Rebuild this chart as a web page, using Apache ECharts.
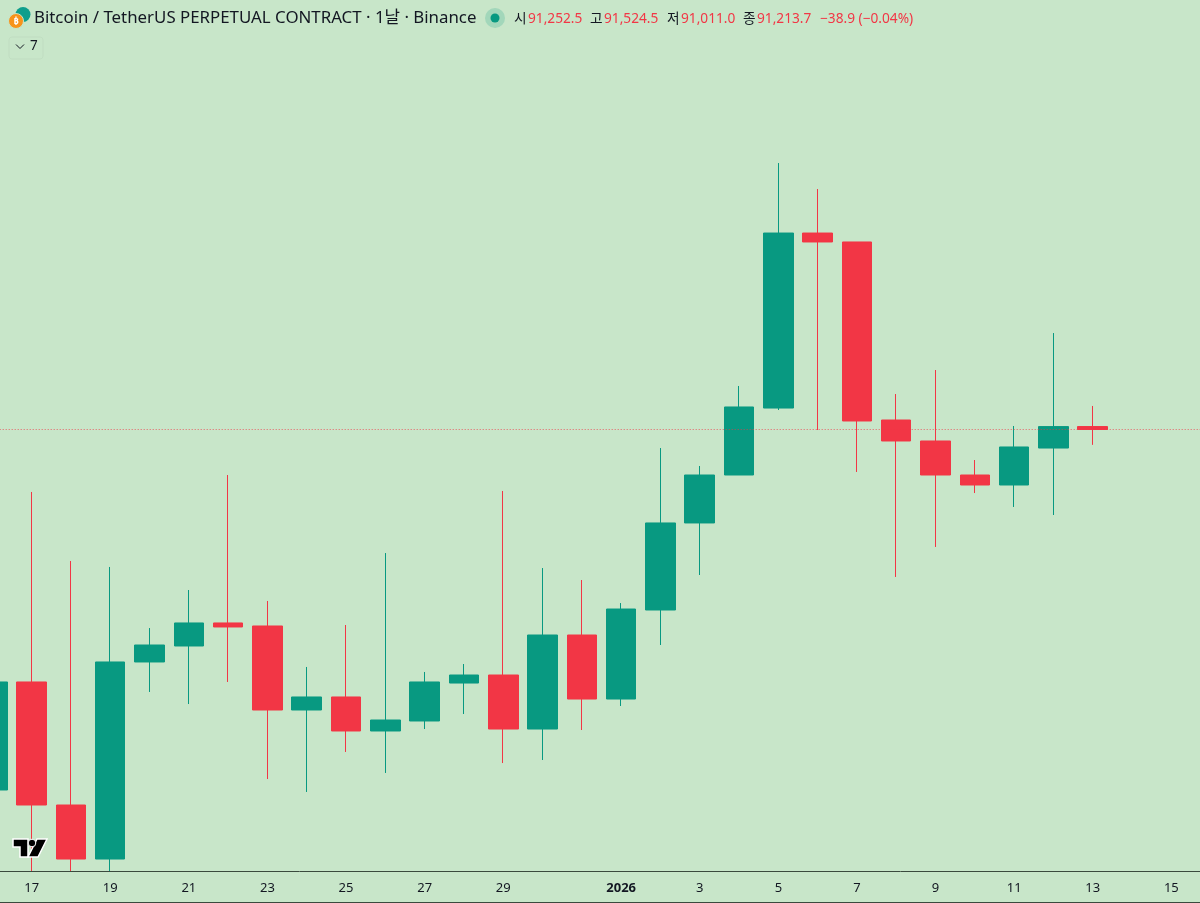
<!DOCTYPE html>
<html><head><meta charset="utf-8">
<style>html,body{margin:0;padding:0;background:#C8E6C9}#c{width:1200px;height:903px}</style>
<script src="https://cdn.jsdelivr.net/npm/echarts@6/dist/echarts.min.js"></script>
</head><body><div id="c"></div>
<script>
const categories = ['12-16','12-17','12-18','12-19','12-20','12-21','12-22','12-23','12-24','12-25','12-26','12-27','12-28','12-29','12-30','12-31','01-01','01-02','01-03','01-04','01-05','01-06','01-07','01-08','01-09','01-10','01-11','01-12','01-13','01-14','01-15','01-16'];
const tickLabels = ['','17','','19','','21','','23','','25','','27','','29','','','2026','','3','','5','','7','','9','','11','','13','','15',''];
const opens  = [86455,87881,86257,85544,88145,88356,88660,88620,87511,87683,87234,87366,87867,87973,87260,88501,87656,88831,89980,90613,91497,93807,93689,91339,91062,90613,90481,90969,91252.5];
const closes = [87881,86257,85544,88145,88369,88660,88607,87511,87683,87234,87379,87881,87973,87260,88501,87656,88844,89980,90613,91511,93807,93689,91326,91062,90613,90481,90983,91252,91213.7];
const lows   = [86200,85386,85386,85386,87749,87590,87881,86600,86429,86957,86680,87260,87458,86811,86851,87247,87564,88369,89293,90613,91471,91207,90653,89267,89663,90375,90191,90085,91011];
const highs  = [88100,90389,89478,89399,88593,89095,90613,88950,88079,88633,89583,88013,88118,90402,89385,89227,88923,90969,90732,91788,94731,94388,93689,91682,91999,90811,91260,92487,91524.5];
const lastClose = 91213.7;
const priceMin = 85386, priceMax = 96883;
const titleText = 'Bitcoin / TetherUS PERPETUAL CONTRACT · 1날 · Binance';
const ohlcKeys = ['시','고','저','종'];
const ohlcVals = ['91,252.5','91,524.5','91,011.0','91,213.7'];
const changeText = '−38.9 (−0.04%)';

const BG='#C8E6C9', UP='#089981', DOWN='#F23645', INK='#131722';
const FONT='"Noto Sans","Noto Sans CJK KR",sans-serif';
const keyX=[514,590,667,743], valX=[528,604,681,757];
function txt(x,y,t,fill,size,extra){return Object.assign({type:'text',x,y,silent:true,z:20,style:{text:t,fill,font:(size)+'px '+FONT,textVerticalAlign:'middle'}},extra||{});}
const g=[
 {type:'circle',shape:{cx:23,cy:14.5,r:7.5},style:{fill:'#0E9E8C'},z:20},
 {type:'circle',shape:{cx:16,cy:21,r:7.5},style:{fill:'#F7931A',stroke:BG,lineWidth:1},z:21},
 {type:'text',x:16,y:21,z:22,style:{text:'₿',fill:'#fff',font:'bold 9px '+FONT,textAlign:'center',textVerticalAlign:'middle'}},
 txt(34,18.5,titleText,INK,16.85),
 {type:'circle',shape:{cx:495,cy:18,r:10},style:{fill:'rgba(8,153,129,0.2)'},z:20},
 {type:'circle',shape:{cx:495,cy:18,r:4.5},style:{fill:UP},z:21},
 txt(820,19,changeText,DOWN,13.7),
 {type:'rect',shape:{x:9,y:37,width:34,height:22,r:3},style:{fill:'none',stroke:'rgba(19,23,34,0.04)',lineWidth:1},z:20},
 {type:'polyline',shape:{points:[[16,44.5],[20,48.5],[24,44.5]]},style:{stroke:INK,lineWidth:1,fill:'none'},z:20},
 txt(30,46,'7',INK,13.5),
 {type:'line',shape:{x1:0,y1:902.5,x2:1200,y2:902.5},style:{stroke:'#3a4a3d',lineWidth:1},z:20},
 {type:'polygon',shape:{points:[[13,839],[28,839],[28,857],[20,857],[20,847],[13,847]]},style:{fill:'#000',stroke:'#fff',lineWidth:1.5},z:20},
 {type:'polygon',shape:{points:[[37,839],[47,839],[38,857],[28,857]]},style:{fill:'#000',stroke:'#fff',lineWidth:1.5},z:20},
 {type:'circle',shape:{cx:32,cy:843,r:3.8},style:{fill:'#000',stroke:'#fff',lineWidth:1},z:21}
];
ohlcKeys.forEach((k,i)=>{g.push(txt(keyX[i],19,k,INK,13.7));g.push(txt(valX[i],19,ohlcVals[i],DOWN,13.7));});

const chart=echarts.init(document.getElementById('c'),null,{renderer:'canvas'});
chart.setOption({
 animation:false,
 backgroundColor:BG,
 grid:{left:-27.3,right:-30.3,top:0,bottom:32,containLabel:false,outerBoundsMode:'none'},
 xAxis:{type:'category',data:categories,boundaryGap:true,
  axisLine:{show:true,lineStyle:{color:'#3a4a3d',width:1}},axisTick:{show:false},splitLine:{show:false},
  axisLabel:{interval:0,margin:11,fontSize:13,fontFamily:FONT,color:INK,hideOverlap:false,
   formatter:(v,i)=>tickLabels[i]==='2026'?'{b|2026}':tickLabels[i],
   rich:{b:{fontWeight:'bold',fontSize:13,fontFamily:FONT,color:INK}}}},
 yAxis:{type:'value',min:priceMin,max:priceMax,show:false,scale:true,splitLine:{show:false}},
 series:[{type:'candlestick',barWidth:30,clip:true,
  data:opens.map((o,i)=>[o,closes[i],lows[i],highs[i]]),
  itemStyle:{color:UP,color0:DOWN,borderColor:UP,borderColor0:DOWN,borderWidth:1},
  markLine:{silent:true,symbol:'none',label:{show:false},
   lineStyle:{color:DOWN,type:[1,2],width:1,opacity:0.75},
   data:[{yAxis:lastClose}]}}],
 graphic:g
});
</script></body></html>
